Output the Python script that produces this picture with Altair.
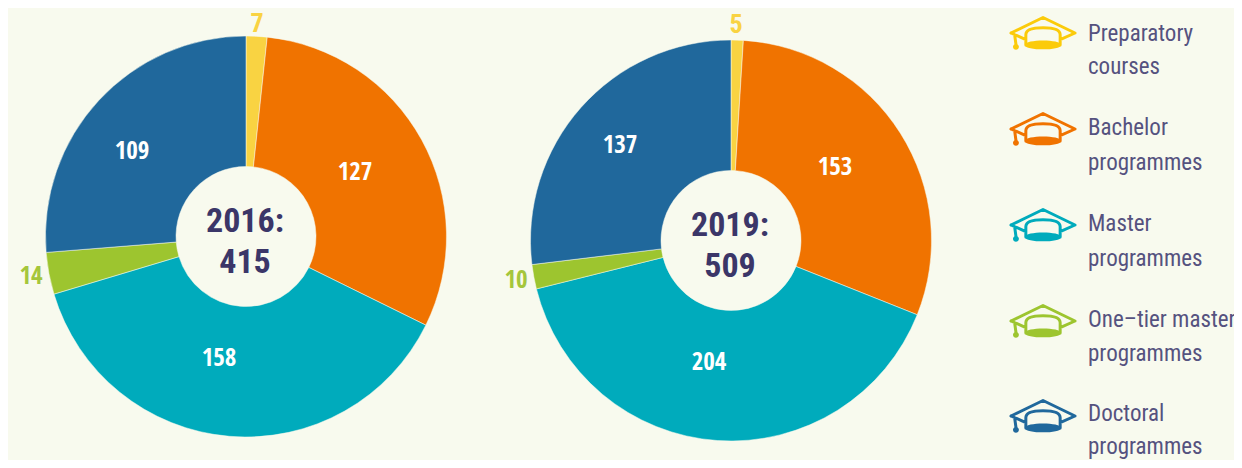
import altair as alt
import pandas as pd

OFFSET = 8
BG = "#F8FAEE"
NAVY = "#3B3668"
LEGEND_TEXT = "#55527F"
NUM_FONT = "Open Sans Condensed"
LEGEND_FONT = "Roboto Condensed"

categories = ["Preparatory courses", "Bachelor programmes", "Master programmes",
              "One-tier master programmes", "Doctoral programmes"]
values_2016 = [7, 127, 158, 14, 109]
values_2019 = [5, 153, 204, 10, 137]
pie_colors = ["#F9D342", "#F07300", "#00ABBC", "#9DC52F", "#20689C"]
hat_colors = ["#FBCB0A", "#F07300", "#00ABBC", "#9DC52F", "#20689C"]
label_colors = ["#F9D342", "#FFFFFF", "#FFFFFF", "#A5C63B", "#FFFFFF"]

label_xy_2016 = [(257, 24), (355, 172), (219, 358), (31, 276), (132, 151)]
label_xy_2019 = [(736, 25), (835, 167), (709, 362), (516, 280), (620, 145)]

color_scale = alt.Scale(domain=categories, range=pie_colors)


def pie(values, cx, cy, r, r0):
    df = pd.DataFrame({"category": categories, "value": values, "order": range(5)})
    return alt.Chart(df).mark_arc(radius=r, radius2=r0, stroke=BG, strokeWidth=0.5).encode(
        theta=alt.Theta("value:Q", stack="normalize",
                        scale=alt.Scale(domain=[0, 1], range=[0, 6.283185307])),
        order=alt.Order("order:Q"),
        color=alt.Color("category:N", scale=color_scale, legend=None),
        x=alt.value(cx - OFFSET),
        y=alt.value(cy - OFFSET),
    )


def text_layer(rows, font, size, weight, align="center", baseline="middle"):
    df = pd.DataFrame(rows, columns=["t", "x", "y", "c"])
    df["x"] -= OFFSET
    df["y"] -= OFFSET
    return alt.Chart(df).mark_text(font=font, fontSize=size, fontWeight=weight,
                                   align=align, baseline=baseline).encode(
        x=alt.X("x:Q", scale=None, axis=None),
        y=alt.Y("y:Q", scale=None, axis=None),
        text="t:N",
        color=alt.Color("c:N", scale=None),
    )


top_rows, rows = [], []
for vals, xy in ((values_2016, label_xy_2016), (values_2019, label_xy_2019)):
    for i, (v, (x, y), c) in enumerate(zip(vals, xy, label_colors)):
        (top_rows if i == 0 else rows).append((str(v), x, y, c))
value_labels = text_layer(rows, NUM_FONT, 25, "bold")
top_labels = text_layer(top_rows, LEGEND_FONT, 26, "bold")

center_labels = text_layer([
    ("2016:", 245, 222, NAVY), ("415", 245, 263, NAVY),
    ("2019:", 730, 226, NAVY), ("509", 730, 267, NAVY),
], LEGEND_FONT, 34, "bold")

legend_rows = [
    ("Preparatory", 1088, 41), ("courses", 1088, 74),
    ("Bachelor", 1088, 135), ("programmes", 1088, 170),
    ("Master", 1088, 231), ("programmes", 1088, 266),
    ("One\u2013tier master", 1088, 327), ("programmes", 1088, 361),
    ("Doctoral", 1088, 421), ("programmes", 1088, 454),
]
legend_labels = text_layer([(t, x, y, LEGEND_TEXT) for t, x, y in legend_rows],
                           LEGEND_FONT, 23, "normal", align="left", baseline="alphabetic")

hat_outline = ("M -0.97 0 L 0 -0.47 L 0.97 0 L 0.52 0.2 M -0.97 0 L -0.52 0.2 "
               "M -0.52 0.36 L -0.52 0.05 Q -0.52 -0.16 0 -0.16 Q 0.52 -0.16 0.52 0.05 L 0.52 0.36 "
               "M -0.86 0.05 L -0.82 0.34")
hat_fill = ("M -0.55 0.36 C -0.55 0.18 0.55 0.18 0.55 0.36 C 0.55 0.54 -0.55 0.54 -0.55 0.36 Z "
            "M -0.91 0.42 C -0.91 0.30 -0.73 0.30 -0.73 0.42 C -0.73 0.54 -0.91 0.54 -0.91 0.42 Z")
hat_df = pd.DataFrame({
    "x": [1043 - OFFSET] * 5,
    "y": [y - OFFSET for y in (33, 129, 225, 321, 416)],
    "c": hat_colors,
})
hat_enc = dict(x=alt.X("x:Q", scale=None, axis=None), y=alt.Y("y:Q", scale=None, axis=None))
hats = alt.Chart(hat_df).mark_point(shape=hat_outline, size=4356, filled=False, opacity=1,
                                    strokeWidth=3, strokeCap="round", strokeJoin="round").encode(
    stroke=alt.Stroke("c:N", scale=None), **hat_enc)
hat_fills = alt.Chart(hat_df).mark_point(shape=hat_fill, size=4356, filled=True, opacity=1,
                                         strokeWidth=0).encode(
    fill=alt.Fill("c:N", scale=None), **hat_enc)

chart = alt.layer(
    pie(values_2016, 246, 236.5, 200.5, 70),
    pie(values_2019, 731, 240.5, 200.5, 70),
    value_labels, top_labels, center_labels, hats, hat_fills, legend_labels,
).properties(
    width=1226, height=452, padding=0, background=BG,
    autosize=alt.AutoSizeParams(type="none"),
).configure_view(stroke=None)

chart.save("out.html", embed_options={"renderer": "svg", "actions": False})
